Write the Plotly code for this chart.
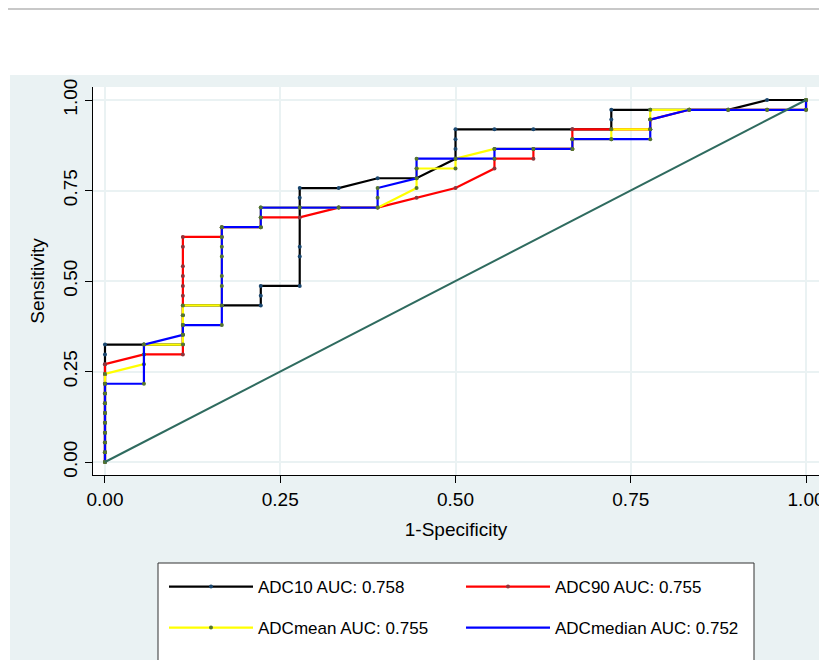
import plotly.graph_objects as go
import numpy as np

# ---- data (counts: 18 negatives, 37 positives) ----
N_NEG = 18
N_POS = 37

series_names = ["ADC10 AUC: 0.758", "ADC90 AUC: 0.755", "ADCmean AUC: 0.755", "ADCmedian AUC: 0.752"]

adc10_fp = [0,0,0,0,0,0,0,0,0,0,0,0,0, 1,2,2,2,2,2,3,4,4,4,5, 5,5,5,5, 6,7,8,9,9,9,9,10,11,12,13, 13,13,14,15,16,17,18]
adc10_tp = [0,1,2,3,4,5,6,7,8,9,10,11,12, 12,12,13,14,15,16,16,16,17,18,18, 21,22,27,28, 28,29,29,31,32,33,34,34,34,34,34, 35,36,36,36,36,37,37]

adc90_fp = [0,0,0,0,0,0,0,0,0,0,0, 1,2,2,2,2,2,2,2, 3,3,4,4,5,6,7,8,9,10,10,11,11,12,12,12,13,14,14,15,16,17,18,18]
adc90_tp = [0,1,2,3,4,5,6,7,8,9,10, 11,11,17,18,19,20,22,23, 23,24,24,25,25,26,26,27,28,30,31,31,32,32,33,34,34,34,35,36,36,36,36,37]

adcmean_fp = [0,0,0,0,0,0,0,0,0,0, 1,1,1,2,2,2,2,2,3,3,4,4,4,5,6,7,8,8,8,9,9,10,11,12,12,13,13,14,14,14,15,16,17,18,18]
adcmean_tp = [0,1,2,3,4,5,6,7,8,9, 10,11,12,12,13,14,15,16,16,24,24,25,26,26,26,26,28,29,30,30,31,32,32,32,33,33,34,34,35,36,36,36,36,36,37]

adcmed_fp = [0,0,0,0,0,0,0,0,0, 1,1,2,2,3,3,3,3,3,3,3,3,4,4,4,5,6,7,7,7,8,8,8,9,10,10,11,12,12,13,14,14,14,15,16,17,18,18]
adcmed_tp = [0,1,2,3,4,5,6,7,8, 8,12,13,14,14,16,18,19,21,22,23,24,24,25,26,26,26,26,27,28,29,30,31,31,31,32,32,32,33,33,33,34,35,36,36,36,36,37]

ref_x = [0, 1]
ref_y = [0, 1]

line_colors = ["#000000", "#ff0000", "#ffff00", "#0000ff"]
marker_colors = ["#1a476f", "#90353b", "#55752f", "#55752f"]

fig = go.Figure()

curves = [(adc10_fp, adc10_tp), (adc90_fp, adc90_tp), (adcmean_fp, adcmean_tp), (adcmed_fp, adcmed_tp)]
legend_ids = ["legend", "legend2", "legend3", "legend4"]
for i, (fp, tp) in enumerate(curves):
    x = np.array(fp) / N_NEG
    y = np.array(tp) / N_POS
    if i < 3:
        fig.add_trace(go.Scatter(x=x, y=y, mode="lines+markers", name=series_names[i],
                                 line=dict(color=line_colors[i], width=2.2),
                                 marker=dict(color=marker_colors[i], size=4),
                                 legend=legend_ids[i]))
    else:
        fig.add_trace(go.Scatter(x=x, y=y, mode="lines", name=series_names[i],
                                 line=dict(color=line_colors[i], width=2.2),
                                 legend=legend_ids[i]))
        fig.add_trace(go.Scatter(x=x, y=y, mode="markers", showlegend=False,
                                 marker=dict(color=marker_colors[i], size=4)))

fig.add_trace(go.Scatter(x=ref_x, y=ref_y, mode="lines", showlegend=False,
                         line=dict(color="#2f6b5f", width=2)))

# the page body adds an 8px offset; work in page pixels and convert
OFF = 8
W, H = 827 - OFF, 660 - OFF
ML, MR, MT = 93 - OFF, 8, 87 - OFF
MB = H - (475 - OFF)
PW, PH = W - ML - MR, H - MT - MB

def px_x(p):
    return (p - OFF - ML) / PW

def px_y(p):
    return (H - MB - (p - OFF)) / PH

font_family = "Liberation Sans, Arial, sans-serif"
tick_vals = [0, 0.25, 0.5, 0.75, 1]
tick_text = ["0.00", "0.25", "0.50", "0.75", "1.00"]

axis_common = dict(tickvals=tick_vals, ticktext=tick_text, ticks="outside", ticklen=7,
                   tickcolor="#000000", tickwidth=1, showline=True, linecolor="#000000",
                   linewidth=1, gridcolor="#eaf2f3", gridwidth=2, zeroline=False,
                   automargin=False,
                   tickfont=dict(size=19, color="#000000", family=font_family))

shapes = [
    dict(type="rect", xref="paper", yref="paper", x0=px_x(0), x1=px_x(835), y0=px_y(75), y1=px_y(0),
         fillcolor="#ffffff", line=dict(width=0), layer="below"),
    dict(type="rect", xref="paper", yref="paper", x0=px_x(0), x1=px_x(10), y0=px_y(670), y1=px_y(0),
         fillcolor="#ffffff", line=dict(width=0), layer="below"),
    dict(type="line", xref="paper", yref="paper", x0=px_x(0), x1=px_x(830), y0=px_y(9), y1=px_y(9),
         line=dict(color="#c8c8c8", width=2), layer="below"),
    dict(type="rect", xref="paper", yref="paper", x0=px_x(158), x1=px_x(754), y0=px_y(700), y1=px_y(563),
         fillcolor="#ffffff", line=dict(color="#333333", width=1), layer="below"),
]

leg_font = dict(size=17, color="#000000", family=font_family)
def leg(xp, yp):
    return dict(x=px_x(xp), y=px_y(yp), xanchor="left", yanchor="middle", bgcolor="rgba(0,0,0,0)",
                borderwidth=0, font=leg_font, itemwidth=84)

fig.update_layout(
    width=W, height=H,
    margin=dict(l=ML, r=MR, t=MT, b=MB, pad=0, autoexpand=False),
    paper_bgcolor="#eaf2f3", plot_bgcolor="#ffffff",
    font=dict(family=font_family, color="#000000"),
    xaxis=dict(range=[-0.0171, 1.0185], title=dict(text="1-Specificity", font=dict(size=19), standoff=13), **axis_common),
    yaxis=dict(range=[-0.0359, 1.0359], tickangle=-90, title=dict(text="Sensitivity", font=dict(size=19), standoff=10), **axis_common),
    shapes=shapes,
    legend=leg(164, 587),
    legend2=leg(461, 587),
    legend3=leg(164, 628),
    legend4=leg(461, 628),
)

fig.write_html("out.html")
